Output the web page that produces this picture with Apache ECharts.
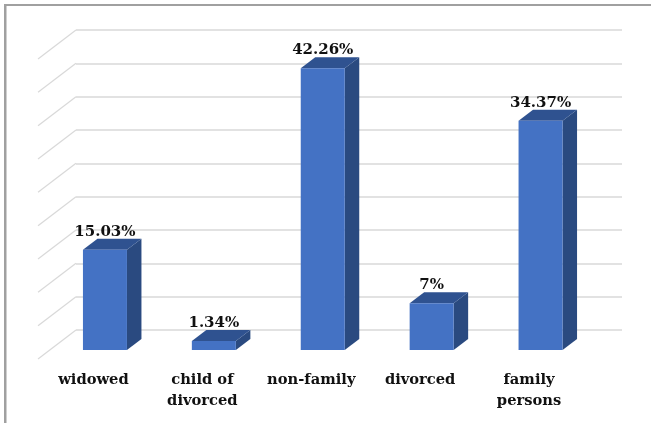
<!DOCTYPE html>
<html>
<head>
<meta charset="utf-8">
<style>html,body{margin:0;padding:0;background:#fff}#c{width:651px;height:423px}</style>
<script src="https://cdn.jsdelivr.net/npm/echarts@6/dist/echarts.min.js"></script>
</head>
<body>
<div id="c"></div>
<script>
var categories = ['widowed', 'child of\ndivorced', 'non-family', 'divorced', 'family\npersons'];
var shares = [15.03, 1.34, 42.26, 7, 34.37];
var yTicks = [0, 5, 10, 15, 20, 25, 30, 35, 40, 45];

var FONT = '"DejaVu Serif"';
var chart = echarts.init(document.getElementById('c'), null, {renderer: 'canvas'});

function renderSlant(params, api) {
  var p = api.coord([0, api.value(1)]);
  var x0 = 38;
  return {
    type: 'line', silent: true,
    shape: {x1: x0, y1: p[1], x2: x0 + 38, y2: p[1] - 29},
    style: {stroke: '#D9D9D9', lineWidth: 1.2}
  };
}

function renderBar(params, api) {
  var v = api.value(1);
  var top = api.coord([api.value(0), v]);
  var base = api.coord([api.value(0), 0]);
  var cx = top[0] + 11.5, w = 44, dx = 14.5, dy = 11;
  var l = cx - w / 2, r = cx + w / 2, t = top[1] - 9, b = base[1] - 9;
  return {
    type: 'group',
    children: [
      {type: 'polygon', shape: {points: [[r, t], [r + dx, t - dy], [r + dx, b - dy], [r, b]]}, style: {fill: '#2A4A80'}},
      {type: 'polygon', shape: {points: [[l, t], [l + dx, t - dy], [r + dx, t - dy], [r, t]]}, style: {fill: '#2F5290'}},
      {type: 'rect', shape: {x: l, y: t, width: w, height: b - t}, style: {fill: '#4472C4'}},
      {type: 'text', z2: 10, style: {
        text: v + '%', x: cx, y: t - dy - 7, align: 'center', verticalAlign: 'middle',
        font: 'bold 15px ' + FONT, fill: '#111'
      }}
    ]
  };
}

chart.setOption({
  animation: false,
  backgroundColor: '#fff',
  graphic: [
    {type: 'rect', silent: true, shape: {x: 4, y: 4, width: 647, height: 2}, style: {fill: '#A0A0A0'}},
    {type: 'rect', silent: true, shape: {x: 4, y: 4, width: 2.5, height: 419}, style: {fill: '#A0A0A0'}}
  ],
  grid: [
    {left: 39, width: 544.5, top: 59, height: 300},
    {left: 76, width: 546, top: 30, height: 300}
  ],
  xAxis: [
    {type: 'category', gridIndex: 0, data: categories,
      axisLine: {show: false}, axisTick: {show: false},
      axisLabel: {interval: 0, margin: 11, lineHeight: 20.5, fontFamily: FONT, fontWeight: 'bold', fontSize: 14.7, color: '#111'}},
    {type: 'category', gridIndex: 1, data: categories, show: false}
  ],
  yAxis: [
    {type: 'value', gridIndex: 0, min: 0, max: 45, interval: 5, show: false, splitLine: {show: false}},
    {type: 'value', gridIndex: 1, min: 0, max: 45, interval: 5,
      axisLine: {show: false}, axisTick: {show: false}, axisLabel: {show: false},
      splitLine: {show: true, lineStyle: {color: '#D9D9D9', width: 1.5}}}
  ],
  series: [
    {type: 'custom', xAxisIndex: 0, yAxisIndex: 0, silent: true, z: 1, clip: false,
      renderItem: renderSlant, data: yTicks.map(function (v) { return [0, v]; })},
    {type: 'custom', xAxisIndex: 0, yAxisIndex: 0, silent: true, z: 5, clip: false,
      renderItem: renderBar, data: shares.map(function (v, i) { return [i, v]; })}
  ]
});
</script>
</body>
</html>
